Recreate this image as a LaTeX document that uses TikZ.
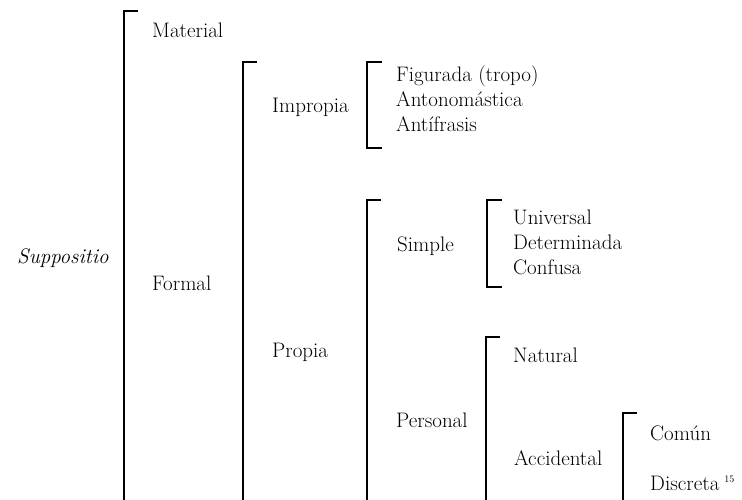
\documentclass[tikz,border=0pt]{standalone}
\usepackage{fontspec}
\usetikzlibrary{positioning}

\tikzset{
  lbl/.style={anchor=base west,inner sep=0pt,font=\fontsize{21}{25}\selectfont},
  brk/.style={line width=1.1pt,line cap=butt}
}

\begin{document}
\begin{tikzpicture}[x=1pt,y=-1pt]
\useasboundingbox (0,0) rectangle (742,499);
\clip (0,0) rectangle (742,499);

% root and first level
\node[lbl] (supp) at (17,263) {\textit{Suppositio}};
\node[lbl] (mat) at (152,37) {Material};
\node[lbl] (form) at (152,290) {Formal};

% formal
\node[lbl] (impr) at (272,112) {Impropia};
\node[lbl] (prop) at (272,357) {Propia};
\node[lbl] (fig) at (396,81) {Figurada (tropo)};
\node[lbl] (anto) at (396,106) {Antonomástica};
\node[lbl] (anti) at (396,131) {Antífrasis};

% propia
\node[lbl] (simp) at (397,251) {Simple};
\node[lbl] (pers) at (396,427) {Personal};
\node[lbl] (univ) at (513,224) {Universal};
\node[lbl] (det) at (513,249) {Determinada};
\node[lbl] (conf) at (513,274) {Confusa};
\node[lbl] (nat) at (513,362) {Natural};
\node[lbl] (acc) at (514,465) {Accidental};
\node[lbl] (com) at (650,440) {Común};
\node[lbl] (disc) at (650,490) {Discreta\hspace{5pt}\textsuperscript{\fontsize{10}{10}\selectfont 15}};

% open brackets (run off the bottom)
\foreach \x/\t in {124/11,243/62,367/200,486/337,623/413}{
  \draw[brk] (\x+14,\t) -- (\x,\t) -- (\x,520);
}
% closed brackets
\foreach \x/\t/\b in {367/62/148,487/200/287}{
  \draw[brk] (\x+15,\t) -- (\x,\t) -- (\x,\b) -- (\x+15,\b);
}

\end{tikzpicture}
\end{document}
